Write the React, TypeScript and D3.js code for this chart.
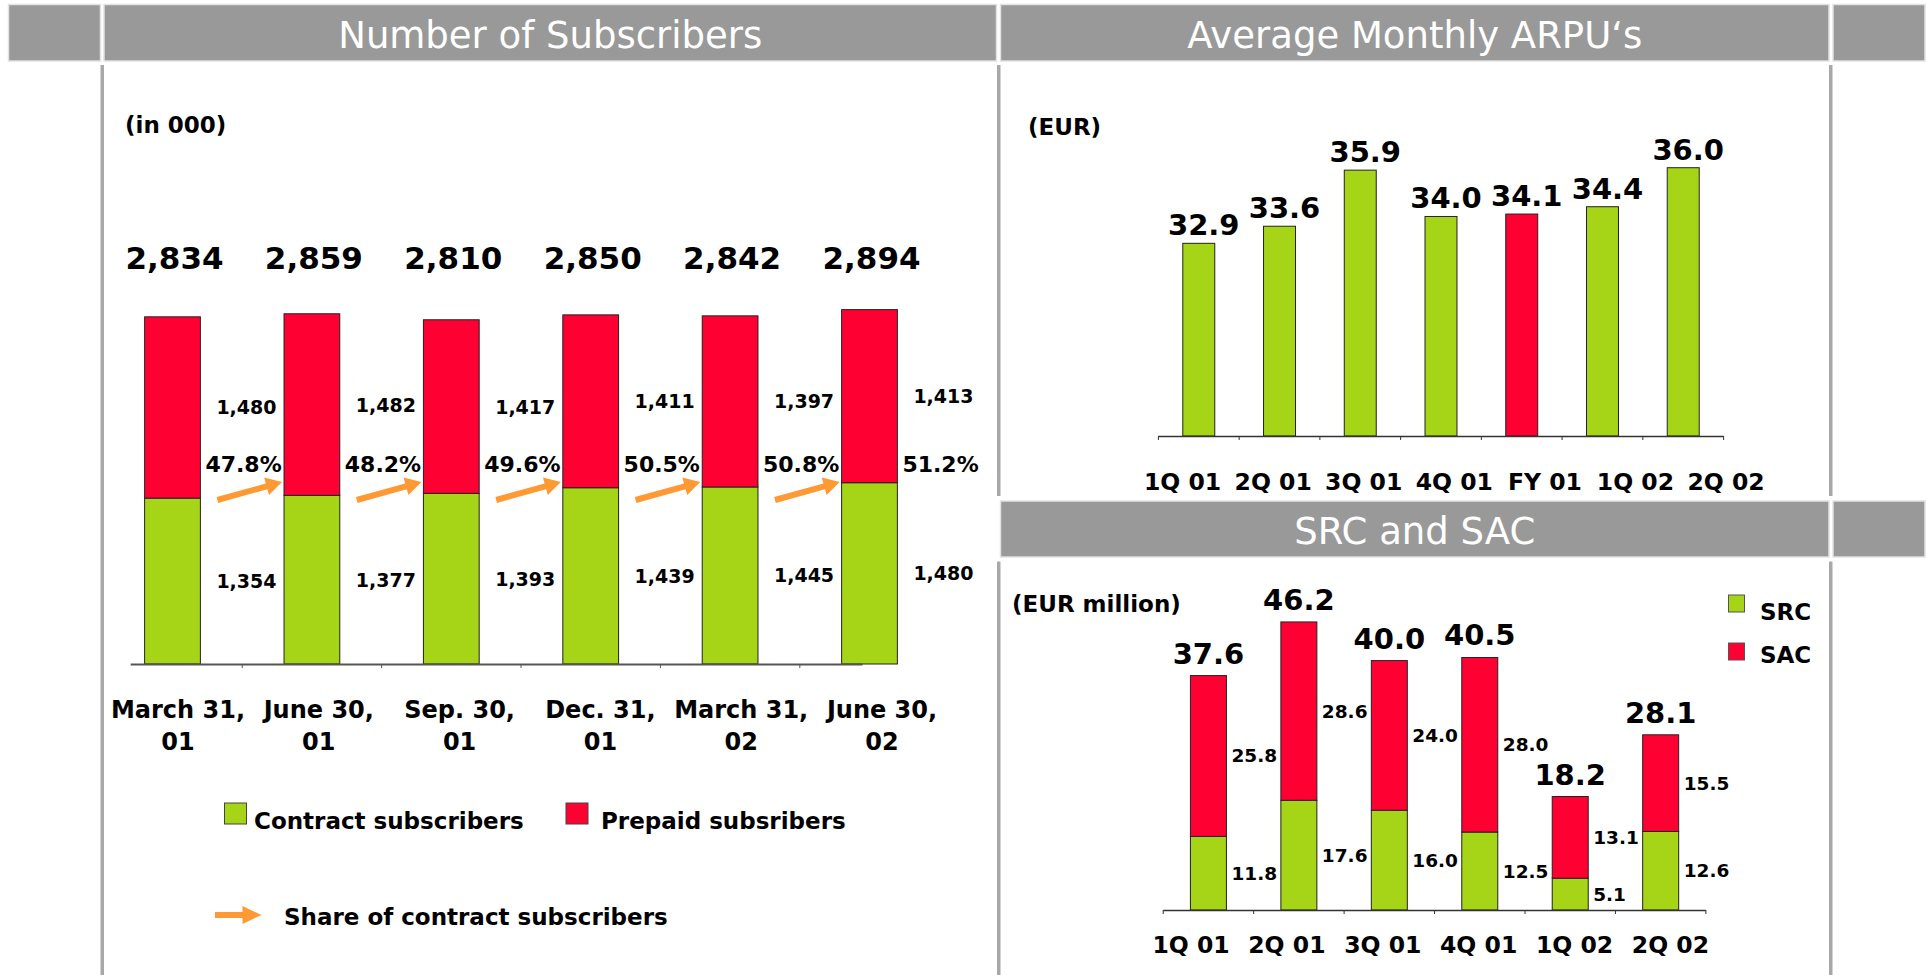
import React from "react";
import * as d3 from "d3";

// ---------- Data ----------
const subKeys = ["Mar01", "Jun01", "Sep01", "Dec01", "Mar02", "Jun02"];
const subDateLine1 = ["March 31,", "June 30,", "Sep. 30,", "Dec. 31,", "March 31,", "June 30,"];
const subDateLine2 = ["01", "01", "01", "01", "02", "02"];
const contractSubs = [1354, 1377, 1393, 1439, 1445, 1480];
const prepaidSubs = [1480, 1482, 1417, 1411, 1397, 1413];
const totalSubs = [2834, 2859, 2810, 2850, 2842, 2894];
const contractShare = [47.8, 48.2, 49.6, 50.5, 50.8, 51.2];

const arpuQuarters = ["1Q 01", "2Q 01", "3Q 01", "4Q 01", "FY 01", "1Q 02", "2Q 02"];
const arpuValues = [32.9, 33.6, 35.9, 34.0, 34.1, 34.4, 36.0];
const arpuIsYear = [false, false, false, false, true, false, false];

const costQuarters = ["1Q 01", "2Q 01", "3Q 01", "4Q 01", "1Q 02", "2Q 02"];
const srcValues = [11.8, 17.6, 16.0, 12.5, 5.1, 12.6];
const sacValues = [25.8, 28.6, 24.0, 28.0, 13.1, 15.5];
const costTotals = [37.6, 46.2, 40.0, 40.5, 18.2, 28.1];

// ---------- Styles ----------
const GREEN = "#A6D416";
const RED = "#FF0033";
const ORANGE = "#FF9933";
const HEADER = "#999999";
const LINE = "#A8A8A8";
const FONT = "'DejaVu Sans', Verdana, sans-serif";

const fmtInt = d3.format(",");
const fmt1 = d3.format(".1f");

function arrowPoints(x1: number, y1: number, x2: number, y2: number, h = 3, L = 16, H = 9) {
  const dx = x2 - x1, dy = y2 - y1;
  const len = Math.hypot(dx, dy);
  const ux = dx / len, uy = dy / len;
  const nx = -uy, ny = ux;
  const bx = x2 - ux * L, by = y2 - uy * L;
  const pts = [
    [x1 + nx * h, y1 + ny * h],
    [bx + nx * h, by + ny * h],
    [bx + nx * H, by + ny * H],
    [x2, y2],
    [bx - nx * H, by - ny * H],
    [bx - nx * h, by - ny * h],
    [x1 - nx * h, y1 - ny * h],
  ];
  return pts.map((p) => p.join(",")).join(" ");
}

function Headers() {
  const boxes = [
    { x: 8.5, y: 4.5, w: 92, h: 56.5 },
    { x: 104, y: 4.5, w: 892.5, h: 56.5, title: "Number of Subscribers" },
    { x: 1000.5, y: 4.5, w: 828.5, h: 56.5, title: "Average Monthly ARPU\u2018s" },
    { x: 1833, y: 4.5, w: 92, h: 56.5 },
    { x: 1000.5, y: 501, w: 828.5, h: 56, title: "SRC and SAC" },
    { x: 1833, y: 501, w: 92, h: 56 },
  ];
  const vlines = [
    { x: 100.5, y1: 65, y2: 975 },
    { x: 997, y1: 65, y2: 496 },
    { x: 997, y1: 561.5, y2: 975 },
    { x: 1829, y1: 65, y2: 496 },
    { x: 1829, y1: 561.5, y2: 975 },
  ];
  return (
    <g>
      {vlines.map((v, i) => (
        <rect key={"v" + i} x={v.x} y={v.y1} width={3.5} height={v.y2 - v.y1} fill={LINE} />
      ))}
      {boxes.map((b, i) => (
        <g key={"b" + i}>
          <rect x={b.x} y={b.y} width={b.w} height={b.h} fill={HEADER} stroke="#E2E2E2" strokeWidth={1.5} />
          {b.title && (
            <text
              x={b.x + b.w / 2}
              y={b.y + 43}
              textAnchor="middle"
              fill="#fff"
              fontFamily={FONT}
              fontSize={37}
              fontWeight={500}
            >
              {b.title}
            </text>
          )}
        </g>
      ))}
    </g>
  );
}

function SubscribersChart() {
  const x = d3.scaleBand<string>().domain(subKeys).range([102.8, 939.2]).paddingInner(0.6).paddingOuter(0.3);
  const y = d3.scaleLinear().domain([0, 3000]).range([664, 296.5]);
  const xl = d3.scalePoint<string>().domain(subKeys).range([178, 882]);
  const bw = x.bandwidth();
  const step = x.step();
  const [r0, r1] = x.range();
  const stack = d3.stack<any>().keys(["contract", "prepaid"])(
    subKeys.map((k, i) => ({ key: k, contract: contractSubs[i], prepaid: prepaidSubs[i] }))
  );
  const colors = [GREEN, RED];
  const labelsBold = { fontFamily: FONT, fontWeight: 700 as const };
  return (
    <g>
      <text x={125} y={133} fontSize={23} {...labelsBold}>(in 000)</text>
      {stack.map((s, si) =>
        s.map((d, i) => (
          <g key={`${si}-${i}`}>
            <rect
              x={x(subKeys[i])!}
              y={y(d[1])}
              width={bw}
              height={y(d[0]) - y(d[1])}
              fill={colors[si]}
              stroke="#222"
              strokeWidth={1}
            />
            <text
              x={x(subKeys[i])! + bw + 16}
              y={(y(d[0]) + y(d[1])) / 2}
              dominantBaseline="central"
              fontSize={19}
              {...labelsBold}
            >
              {fmtInt(si === 0 ? contractSubs[i] : prepaidSubs[i])}
            </text>
          </g>
        ))
      )}
      {totalSubs.map((t, i) => (
        <text key={"t" + i} x={x(subKeys[i])! + bw / 2 + 2} y={269} textAnchor="middle" fontSize={31} {...labelsBold}>
          {fmtInt(t)}
        </text>
      ))}
      {contractShare.map((p, i) => (
        <text key={"p" + i} x={x(subKeys[i])! + bw + 5} y={472} fontSize={22} {...labelsBold}>
          {fmt1(p)}%
        </text>
      ))}
      {subKeys.slice(0, -1).map((k, i) => (
        <polygon
          key={"a" + i}
          points={arrowPoints(x(k)! + bw + 17, 500, x(subKeys[i + 1])! - 2, 482)}
          fill={ORANGE}
        />
      ))}
      {/* axis */}
      <line x1={r0 + 0.2 * step} x2={r1 - 0.55 * step} y1={y(0) + 0.5} y2={y(0) + 0.5} stroke="#555" strokeWidth={2} />
      {subKeys.slice(1).map((k, i) => (
        <line key={"tk" + i} x1={x(k)! - (step - bw) / 2} x2={x(k)! - (step - bw) / 2} y1={y(0)} y2={y(0) + 4} stroke="#555" strokeWidth={1} />
      ))}
      {subKeys.map((k, i) => (
        <text key={"xl" + i} textAnchor="middle" fontSize={24} {...labelsBold}>
          <tspan x={xl(k)} y={718}>{subDateLine1[i]}</tspan>
          <tspan x={xl(k)} y={750}>{subDateLine2[i]}</tspan>
        </text>
      ))}
      {/* legend */}
      <rect x={224.5} y={803} width={22} height={21} fill={GREEN} stroke="#444" strokeWidth={1} />
      <text x={254} y={829} fontSize={23} {...labelsBold}>Contract subscribers</text>
      <rect x={566} y={803} width={22} height={21} fill={RED} stroke="#444" strokeWidth={1} />
      <text x={601} y={829} fontSize={23} {...labelsBold}>Prepaid subsribers</text>
      <polygon points={arrowPoints(215, 915, 261.5, 915, 3, 19, 9)} fill={ORANGE} />
      <text x={284} y={925} fontSize={23} {...labelsBold}>Share of contract subscribers</text>
    </g>
  );
}

function ArpuChart() {
  const x = d3.scaleBand<string>().domain(arpuQuarters).range([1158.4, 1723.6]).paddingInner(0.604).paddingOuter(0.302);
  const y = d3.scaleLinear().domain([25, 36]).range([436, 167.7]);
  const xl = d3.scalePoint<string>().domain(arpuQuarters).range([1182.6, 1726]);
  const bw = x.bandwidth();
  const step = x.step();
  const [r0, r1] = x.range();
  const b = { fontFamily: FONT, fontWeight: 700 as const };
  const ticks = d3.range(arpuQuarters.length + 1).map((i) => r0 + i * step);
  return (
    <g>
      <text x={1028} y={135} fontSize={23} {...b}>(EUR)</text>
      {arpuQuarters.map((q, i) => (
        <g key={q}>
          <rect
            x={x(q)!}
            y={y(arpuValues[i])}
            width={bw}
            height={y(25) - y(arpuValues[i])}
            fill={arpuIsYear[i] ? RED : GREEN}
            stroke="#222"
            strokeWidth={1}
          />
          <text x={x(q)! + bw / 2 + 5} y={y(arpuValues[i]) - 8} textAnchor="middle" fontSize={29} {...b}>
            {fmt1(arpuValues[i])}
          </text>
          <text x={xl(q)} y={490} textAnchor="middle" fontSize={23.5} {...b}>{q}</text>
        </g>
      ))}
      <line x1={r0} x2={r1} y1={y(25) + 0.5} y2={y(25) + 0.5} stroke="#333" strokeWidth={1.5} />
      {ticks.map((t, i) => (
        <line key={i} x1={t} x2={t} y1={y(25)} y2={y(25) + 4} stroke="#333" strokeWidth={1} />
      ))}
    </g>
  );
}

function CostChart() {
  const x = d3.scaleBand<string>().domain(costQuarters).range([1163.2, 1705.9]).paddingInner(0.602).paddingOuter(0.301);
  const y = d3.scaleLinear().domain([0, 50]).range([910, 598.25]);
  const xl = d3.scalePoint<string>().domain(costQuarters).range([1191, 1670.4]);
  const bw = x.bandwidth();
  const step = x.step();
  const [r0, r1] = x.range();
  const b = { fontFamily: FONT, fontWeight: 700 as const };
  const stack = d3.stack<any>().keys(["src", "sac"])(
    costQuarters.map((q, i) => ({ q, src: srcValues[i], sac: sacValues[i] }))
  );
  const colors = [GREEN, RED];
  const vals = [srcValues, sacValues];
  const ticks = d3.range(costQuarters.length + 1).map((i) => r0 + i * step);
  return (
    <g>
      <text x={1012} y={612} fontSize={23} {...b}>(EUR million)</text>
      {stack.map((s, si) =>
        s.map((d, i) => (
          <g key={`${si}-${i}`}>
            <rect
              x={x(costQuarters[i])!}
              y={y(d[1])}
              width={bw}
              height={y(d[0]) - y(d[1])}
              fill={colors[si]}
              stroke="#222"
              strokeWidth={1}
            />
            <text
              x={x(costQuarters[i])! + bw + 5}
              y={(y(d[0]) + y(d[1])) / 2}
              dominantBaseline="central"
              fontSize={18.5}
              {...b}
            >
              {fmt1(vals[si][i])}
            </text>
          </g>
        ))
      )}
      {costTotals.map((t, i) => (
        <text key={"t" + i} x={x(costQuarters[i])! + bw / 2} y={y(t) - 12} textAnchor="middle" fontSize={29} {...b}>
          {fmt1(t)}
        </text>
      ))}
      <line x1={r0} x2={r1} y1={y(0) + 0.5} y2={y(0) + 0.5} stroke="#333" strokeWidth={1.5} />
      {ticks.map((t, i) => (
        <line key={i} x1={t} x2={t} y1={y(0)} y2={y(0) + 4} stroke="#333" strokeWidth={1} />
      ))}
      {costQuarters.map((q) => (
        <text key={q} x={xl(q)} y={953} textAnchor="middle" fontSize={23.5} {...b}>{q}</text>
      ))}
      {/* legend */}
      <rect x={1728.5} y={595} width={16} height={17} fill={GREEN} stroke="#555" strokeWidth={1} />
      <text x={1760} y={620} fontSize={23} {...b}>SRC</text>
      <rect x={1728.5} y={643} width={16} height={17} fill={RED} stroke="#555" strokeWidth={1} />
      <text x={1760} y={663} fontSize={23} {...b}>SAC</text>
    </g>
  );
}

export default function App() {
  return (
    <div style={{ position: "absolute", left: 0, top: 0, width: 1927, height: 975, background: "#fff" }}>
      <svg width={1927} height={975} viewBox="0 0 1927 975" style={{ display: "block" }}>
        <rect x={0} y={0} width={1927} height={975} fill="#fff" />
        <Headers />
        <SubscribersChart />
        <ArpuChart />
        <CostChart />
      </svg>
    </div>
  );
}
